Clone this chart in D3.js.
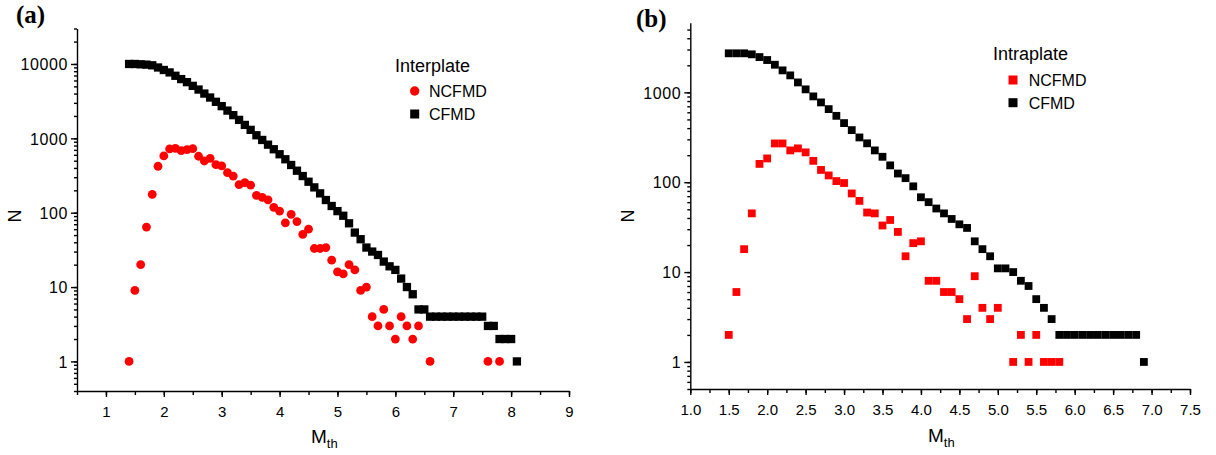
<!DOCTYPE html>
<html>
<head>
<meta charset="utf-8">
<script src="https://cdn.jsdelivr.net/npm/d3@7"></script>
<style>
  body { margin: 0; background: #fff; }
  svg { display: block; font-family: "Liberation Sans", Arial, sans-serif; }
  .axis path, .axis line { stroke: #000; stroke-width: 1.4; }
  .axis text { font-size: 15px; fill: #000; }
  .yax text { font-size: 16px; letter-spacing: 0.6px; }
</style>
</head>
<body>
<svg width="1216" height="455"></svg>
<script>
// (a) Interplate
var interNcM = [1.4,1.5,1.6,1.7,1.8,1.9,2.0,2.1,2.2,2.3,2.4,2.5,2.6,2.7,2.8,2.9,3.0,3.1,3.2,3.3,3.4,3.5,3.6,3.7,3.8,3.9,
  4.0,4.1,4.2,4.3,4.4,4.5,4.6,4.7,4.8,4.9,5.0,5.1,5.2,5.3,5.4,5.5,5.6,5.7,5.8,5.9,6.0,6.1,6.2,6.3,6.4,6.6,7.6,7.8];
var interNcN = [1,9,20,64,176,421,580,720,735,682,704,726,574,496,539,443,425,345,311,238,253,235,171,161,149,118,
  105,73,95,76,51,60,33,33,34,23,16,15,20,17,9,10,4,3,5,3,2,4,3,2,3,1,1,1];
var interCM = [1.4,1.5,1.6,1.7,1.8,1.9,2.0,2.1,2.2,2.3,2.4,2.5,2.6,2.7,2.8,2.9,3.0,3.1,3.2,3.3,3.4,3.5,3.6,3.7,3.8,3.9,
  4.0,4.1,4.2,4.3,4.4,4.5,4.6,4.7,4.8,4.9,5.0,5.1,5.2,5.3,5.4,5.5,5.6,5.7,5.8,5.9,6.0,6.1,6.2,6.3,6.4,6.5,
  6.6,6.7,6.8,6.9,7.0,7.1,7.2,7.3,7.4,7.5,7.6,7.7,7.8,7.9,8.0,8.1];
var interCN = [10000,10000,9900,9800,9600,8970,8300,7700,6940,6260,5700,5080,4530,4000,3540,3100,2710,2360,2050,1770,1515,1300,1100,951,822,713,
  611,523,438,367,311,261,219,182,148,123,105,91,72,54,44,34,30,27,22,19,17,13,10,8,5,5,
  4,4,4,4,4,4,4,4,4,4,3,3,2,2,2,1];

// (b) Intraplate
var intraNcM = [1.5,1.6,1.7,1.8,1.9,2.0,2.1,2.2,2.3,2.4,2.5,2.6,2.7,2.8,2.9,3.0,3.1,3.2,3.3,3.4,3.5,3.6,3.7,3.8,3.9,
  4.0,4.1,4.2,4.3,4.4,4.5,4.6,4.7,4.8,4.9,5.0,5.2,5.3,5.4,5.5,5.6,5.7,5.8];
var intraNcN = [2,6,18,45,160,184,270,270,226,238,215,173,137,119,103,98,75,62,46,45,33,38,28,15,21,
  22,8,8,6,6,5,3,9,4,3,4,1,2,1,2,1,1,1];
var intraCM = [1.5,1.6,1.7,1.8,1.9,2.0,2.1,2.2,2.3,2.4,2.5,2.6,2.7,2.8,2.9,3.0,3.1,3.2,3.3,3.4,3.5,3.6,3.7,3.8,3.9,
  4.0,4.1,4.2,4.3,4.4,4.5,4.6,4.7,4.8,4.9,5.0,5.1,5.2,5.3,5.4,5.5,5.6,5.7,
  5.8,5.9,6.0,6.1,6.2,6.3,6.4,6.5,6.6,6.7,6.8,6.9];
var intraCN = [2720,2720,2720,2650,2470,2290,2030,1757,1545,1290,1080,902,773,651,548,455,380,315,271,226,192,154,125,111,90,
  68,60,51,45,39,34,31,22,18,15,11,11,10,8,7,5,4,3,
  2,2,2,2,2,2,2,2,2,2,2,1];

var xTicksA = [1,2,3,4,5,6,7,8,9];
var xTicksB = [1.0,1.5,2.0,2.5,3.0,3.5,4.0,4.5,5.0,5.5,6.0,6.5,7.0,7.5];

var svg = d3.select("svg");

function zip(ms, ns) { return ms.map(function(m, i) { return {m: m, n: ns[i]}; }); }

function drawPanel(cfg) {
  var x = d3.scaleLinear().domain(cfg.xDom).range([cfg.left, cfg.right]);
  var y = d3.scaleLog().domain(cfg.yDom).range([cfg.bottom, cfg.top]);
  var g = svg.append("g");

  // minor ticks
  var yMinor = y.ticks().filter(function(d) { return d >= cfg.yDom[0] && d <= cfg.yDom[1]; });
  var yMajor = yMinor.filter(function(d) { return Math.abs(Math.log10(d) - Math.round(Math.log10(d))) < 1e-9; });
  var xMinor = d3.range(cfg.xDom[0], cfg.xDom[1] + 1e-9, cfg.xMinorStep);

  g.append("g").attr("class", "axis")
    .attr("transform", "translate(" + cfg.left + ",0)")
    .call(d3.axisLeft(y).tickValues(yMinor).tickSize(3).tickFormat(""))
    .select(".domain").remove();
  g.append("g").attr("class", "axis yax")
    .attr("transform", "translate(" + cfg.left + ",0)")
    .call(d3.axisLeft(y).tickValues(yMajor).tickSizeInner(6).tickSizeOuter(0).tickPadding(3).tickFormat(d3.format("d")))
    .selectAll("text").attr("dy", "0.36em");

  g.append("g").attr("class", "axis")
    .attr("transform", "translate(0," + cfg.bottom + ")")
    .call(d3.axisBottom(x).tickValues(xMinor).tickSize(4).tickFormat(""))
    .select(".domain").remove();
  g.append("g").attr("class", "axis")
    .attr("transform", "translate(0," + cfg.bottom + ")")
    .call(d3.axisBottom(x).tickValues(cfg.xTicks).tickSizeInner(6).tickSizeOuter(0).tickPadding(9).tickFormat(cfg.xFormat));

  // axis titles
  g.append("text")
    .attr("transform", "translate(" + cfg.nX + "," + cfg.nY + ") rotate(-90)")
    .attr("text-anchor", "middle")
    .attr("font-size", 18)
    .text("N");
  var mt = g.append("text")
    .attr("x", cfg.mX).attr("y", cfg.mY)
    .attr("font-size", 19);
  mt.append("tspan").text("M");
  mt.append("tspan").attr("font-size", 13).attr("dy", 5).text("th");

  // panel letter
  g.append("text")
    .attr("x", cfg.lX).attr("y", cfg.lY)
    .attr("font-family", "'Liberation Serif', 'Times New Roman', serif")
    .attr("font-weight", "bold")
    .attr("font-size", 25)
    .text(cfg.letter);

  // red series
  var red = zip(cfg.ncM, cfg.ncN);
  if (cfg.ncShape === "circle") {
    g.selectAll(".nc").data(red).enter().append("circle")
      .attr("cx", function(d) { return x(d.m); })
      .attr("cy", function(d) { return y(d.n); })
      .attr("r", 4.4)
      .attr("fill", "#ff0000");
  } else {
    g.selectAll(".nc").data(red).enter().append("rect")
      .attr("x", function(d) { return x(d.m) - cfg.sq / 2; })
      .attr("y", function(d) { return y(d.n) - cfg.sq / 2; })
      .attr("width", cfg.sq).attr("height", cfg.sq)
      .attr("fill", "#ff0000");
  }
  // black series
  g.selectAll(".cf").data(zip(cfg.cM, cfg.cN)).enter().append("rect")
    .attr("x", function(d) { return x(d.m) - cfg.sq / 2; })
    .attr("y", function(d) { return y(d.n) - cfg.sq / 2; })
    .attr("width", cfg.sq).attr("height", cfg.sq)
    .attr("fill", "#000");

  // legend
  var lg = g.append("g").attr("transform", "translate(" + cfg.legX + "," + cfg.legY + ")");
  lg.append("text").attr("x", 0).attr("y", 0).attr("font-size", 18).text(cfg.legTitle);
  var items = cfg.legItems;
  items.forEach(function(it, i) {
    var cy = cfg.legRow0 + i * cfg.legGap;
    if (it.shape === "circle") {
      lg.append("circle").attr("cx", cfg.legMX).attr("cy", cy).attr("r", 4.7).attr("fill", it.color);
    } else {
      lg.append("rect").attr("x", cfg.legMX - 4.5).attr("y", cy - 4.5).attr("width", 9).attr("height", 9).attr("fill", it.color);
    }
    lg.append("text").attr("x", cfg.legTX).attr("y", cy + 6).attr("font-size", 16).text(it.label);
  });
}

drawPanel({
  letter: "(a)", lX: 16, lY: 23,
  left: 77, right: 569, top: 28.5, bottom: 391,
  xDom: [0.5, 9], yDom: [0.4, 30000],
  xTicks: xTicksA, xMinorStep: 0.5, xFormat: d3.format("d"),
  nX: 21, nY: 216, mX: 311, mY: 443,
  ncM: interNcM, ncN: interNcN, ncShape: "circle",
  cM: interCM, cN: interCN, sq: 8.3,
  legX: 395, legY: 72, legTitle: "Interplate",
  legRow0: 19, legGap: 23, legMX: 19.7, legTX: 34,
  legItems: [{label: "NCFMD", color: "#ff0000", shape: "circle"}, {label: "CFMD", color: "#000", shape: "square"}]
});

drawPanel({
  letter: "(b)", lX: 636, lY: 27,
  left: 690.3, right: 1190, top: 22.7, bottom: 389,
  xDom: [1.0, 7.5], yDom: [0.5, 5960],
  xTicks: xTicksB, xMinorStep: 0.25, xFormat: d3.format(".1f"),
  nX: 634, nY: 216, mX: 928, mY: 442,
  ncM: intraNcM, ncN: intraNcN, ncShape: "square",
  cM: intraCM, cN: intraCN, sq: 7.8,
  legX: 993, legY: 60, legTitle: "Intraplate",
  legRow0: 20, legGap: 22.7, legMX: 20, legTX: 35.7,
  legItems: [{label: "NCFMD", color: "#ff0000", shape: "square"}, {label: "CFMD", color: "#000", shape: "square"}]
});
</script>
</body>
</html>
